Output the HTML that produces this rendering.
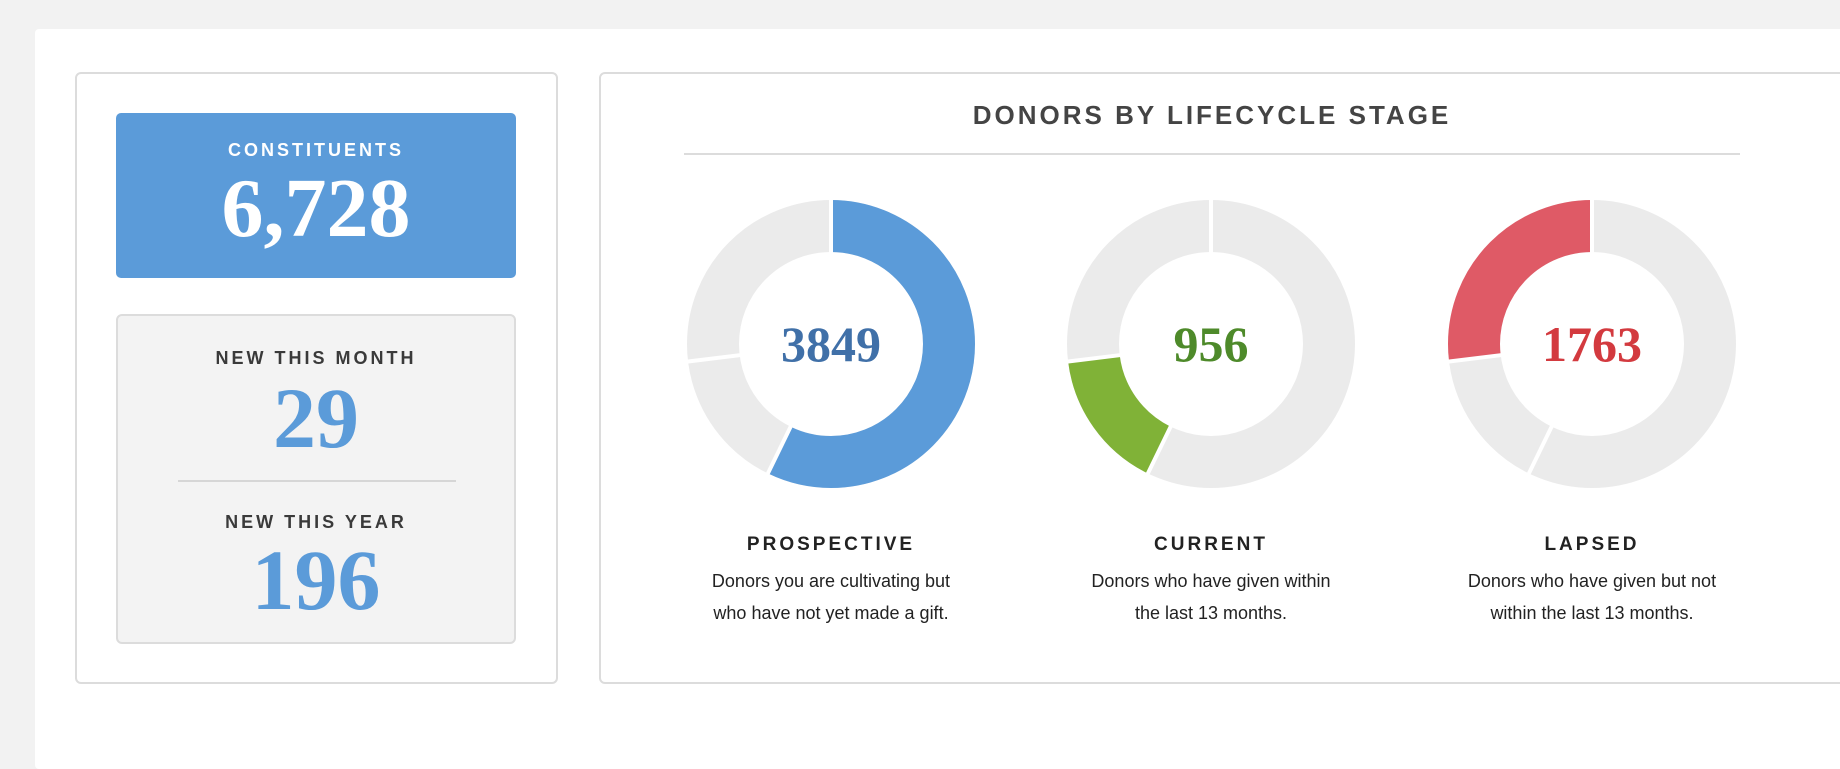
<!DOCTYPE html>
<html><head><style>
*{margin:0;padding:0;box-sizing:border-box}
body{width:1840px;height:754px;background:#f2f2f2;position:relative;overflow:hidden;font-family:"Liberation Sans",sans-serif}
.panel{position:absolute;left:35px;top:29px;width:1820px;height:740px;background:#fff;border-radius:4px}
.card{position:absolute;border:2px solid #dcdcdc;border-radius:6px;background:#fff}
.c{position:absolute;left:0;width:100%;text-align:center}
.lab{font-weight:bold;letter-spacing:3px;color:#3a3a3a}
.num{font-family:"Liberation Serif",serif;font-weight:bold}
</style></head><body>
<div class="panel"></div>
<div class="card" style="left:75px;top:72px;width:483px;height:612px"></div>
<div style="position:absolute;left:116px;top:113px;width:400px;height:165px;background:#5b9bd9;border-radius:5px">
 <div class="c lab" style="top:27px;font-size:18px;color:#fff">CONSTITUENTS</div>
 <div class="c num" style="top:48px;font-size:84px;line-height:96px;color:#fff">6,728</div>
</div>
<div style="position:absolute;left:116px;top:314px;width:400px;height:330px;background:#f3f3f3;border:2px solid #dcdcdc;border-radius:6px">
 <div class="c lab" style="top:32px;font-size:18px">NEW THIS MONTH</div>
 <div class="c num" style="top:54px;font-size:86px;line-height:96px;color:#5b9bd9">29</div>
 <div style="position:absolute;left:60px;top:164px;width:278px;height:2px;background:#d6d6d6"></div>
 <div class="c lab" style="top:196px;font-size:18px">NEW THIS YEAR</div>
 <div class="c num" style="top:216px;font-size:86px;line-height:96px;color:#5b9bd9">196</div>
</div>
<div class="card" style="left:599px;top:72px;width:1300px;height:612px"></div>
<div style="position:absolute;left:684px;top:100px;width:1056px;text-align:center;font-size:26px;font-weight:bold;letter-spacing:3px;color:#444">DONORS BY LIFECYCLE STAGE</div>
<div style="position:absolute;left:684px;top:153px;width:1056px;height:2px;background:#dcdcdc"></div>
<svg style="position:absolute;left:0;top:0" width="1840" height="754">
 <g transform="translate(831,344)">
  <circle r="118" fill="none" stroke="#ebebeb" stroke-width="52"/>
  <circle r="118" fill="none" stroke="#5b9bd9" stroke-width="52" stroke-dasharray="424.1 741.4" transform="rotate(-90)"/>
 </g>
 <g transform="translate(1211,344)">
  <circle r="118" fill="none" stroke="#ebebeb" stroke-width="52"/>
  <circle r="118" fill="none" stroke="#80b237" stroke-width="52" stroke-dasharray="117.6 741.4" stroke-dashoffset="-424.1" transform="rotate(-90)"/>
 </g>
 <g transform="translate(1592,344)">
  <circle r="118" fill="none" stroke="#ebebeb" stroke-width="52"/>
  <circle r="118" fill="none" stroke="#df5a66" stroke-width="52" stroke-dasharray="199.8 741.4" stroke-dashoffset="-541.6" transform="rotate(-90)"/>
 </g>
 <g stroke="#fff" stroke-width="4">
  <g transform="translate(831,344)"><line x1="0" y1="-88" x2="0" y2="-148"/><line x1="-39.5" y1="80.9" x2="-64" y2="131.2"/><line x1="-87.3" y1="10.7" x2="-146.9" y2="18"/></g>
  <g transform="translate(1211,344)"><line x1="0" y1="-88" x2="0" y2="-148"/><line x1="-39.5" y1="80.9" x2="-64" y2="131.2"/><line x1="-87.3" y1="10.7" x2="-146.9" y2="18"/></g>
  <g transform="translate(1592,344)"><line x1="0" y1="-88" x2="0" y2="-148"/><line x1="-39.5" y1="80.9" x2="-64" y2="131.2"/><line x1="-87.3" y1="10.7" x2="-146.9" y2="18"/></g>
 </g>
 <g font-family="Liberation Serif, serif" font-weight="bold" font-size="50" text-anchor="middle">
  <text x="831" y="361" fill="#4070a8">3849</text>
  <text x="1211" y="361" fill="#4e8a2a">956</text>
  <text x="1592" y="361" fill="#d33a3f">1763</text>
 </g>
</svg>
<div style="position:absolute;left:661px;top:534px;width:340px;text-align:center">
 <div class="lab" style="font-size:19px;color:#222">PROSPECTIVE</div>
 <div style="margin-top:9px;font-size:18px;line-height:32px;color:#222">Donors you are cultivating but<br>who have not yet made a gift.</div>
</div>
<div style="position:absolute;left:1041px;top:534px;width:340px;text-align:center">
 <div class="lab" style="font-size:19px;color:#222">CURRENT</div>
 <div style="margin-top:9px;font-size:18px;line-height:32px;color:#222">Donors who have given within<br>the last 13 months.</div>
</div>
<div style="position:absolute;left:1422px;top:534px;width:340px;text-align:center">
 <div class="lab" style="font-size:19px;color:#222">LAPSED</div>
 <div style="margin-top:9px;font-size:18px;line-height:32px;color:#222">Donors who have given but not<br>within the last 13 months.</div>
</div>
</body></html>
